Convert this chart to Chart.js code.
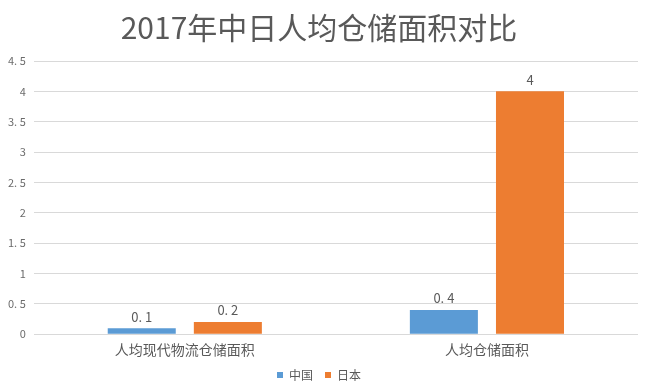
<!DOCTYPE html>
<html>
<head>
<meta charset="utf-8">
<script src="https://cdn.jsdelivr.net/npm/chart.js@4.4.0/dist/chart.umd.min.js"></script>
<style>
  html,body{margin:0;padding:0;background:#fff;}
  #wrap{width:650px;height:390px;}
</style>
</head>
<body>
<div id="wrap"><canvas id="c" width="650" height="390"></canvas></div>
<script>
// --- data
const categories = ['人均现代物流仓储面积', '人均仓储面积'];
const chinaValues = [0.1, 0.4];
const japanValues = [0.2, 4];
const seriesNames = ['中国', '日本'];
const valueLabels = [['0. 1', '0. 4'], ['0. 2', '4']];
const tickLabels = ['0', '0. 5', '1', '1. 5', '2', '2. 5', '3', '3. 5', '4', '4. 5'];

const FONT = '"Noto Sans CJK SC", "Noto Sans", sans-serif';
const GREY = '#595959';

// --- bar value labels
const barLabels = {
  id: 'barLabels',
  afterDatasetsDraw(chart){
    const ctx = chart.ctx;
    ctx.save();
    ctx.font = '13px ' + FONT;
    ctx.fillStyle = GREY;
    ctx.textAlign = 'center';
    ctx.textBaseline = 'bottom';
    chart.data.datasets.forEach((ds, i) => {
      chart.getDatasetMeta(i).data.forEach((bar, j) => {
        ctx.fillText(valueLabels[i][j], bar.x, bar.y - 5);
      });
    });
    ctx.restore();
  }
};

new Chart(document.getElementById('c'), {
  type: 'bar',
  data: {
    labels: categories,
    datasets: [
      {label: seriesNames[0], data: chinaValues, backgroundColor: '#5B9BD5'},
      {label: seriesNames[1], data: japanValues, backgroundColor: '#ED7D31'}
    ]
  },
  options: {
    responsive: false,
    animation: false,
    devicePixelRatio: 1,
    categoryPercentage: 0.57,
    barPercentage: 0.79,
    layout: {padding: {left: 0, right: 12, top: 0, bottom: -1}},
    plugins: {
      title: {
        display: true,
        text: '2017年中日人均仓储面积对比',
        color: GREY,
        font: {family: FONT, size: 30, weight: 'normal'},
        padding: {top: 10, bottom: 15}
      },
      legend: {
        position: 'bottom',
        labels: {
          color: GREY,
          font: {family: FONT, size: 12},
          boxWidth: 6, boxHeight: 6,
          padding: 12
        }
      },
      tooltip: {enabled: false}
    },
    scales: {
      x: {
        grid: {display: false},
        border: {display: false},
        ticks: {color: GREY, font: {family: FONT, size: 14}, padding: -1}
      },
      y: {
        min: 0, max: 4.5,
        ticks: {
          stepSize: 0.5,
          color: '#6b6b6b',
          font: {family: FONT, size: 11},
          padding: 8,
          callback: (v, i) => tickLabels[i]
        },
        grid: {color: '#D9D9D9', drawTicks: false},
        border: {display: false}
      }
    }
  },
  plugins: [barLabels]
});
</script>
</body>
</html>
